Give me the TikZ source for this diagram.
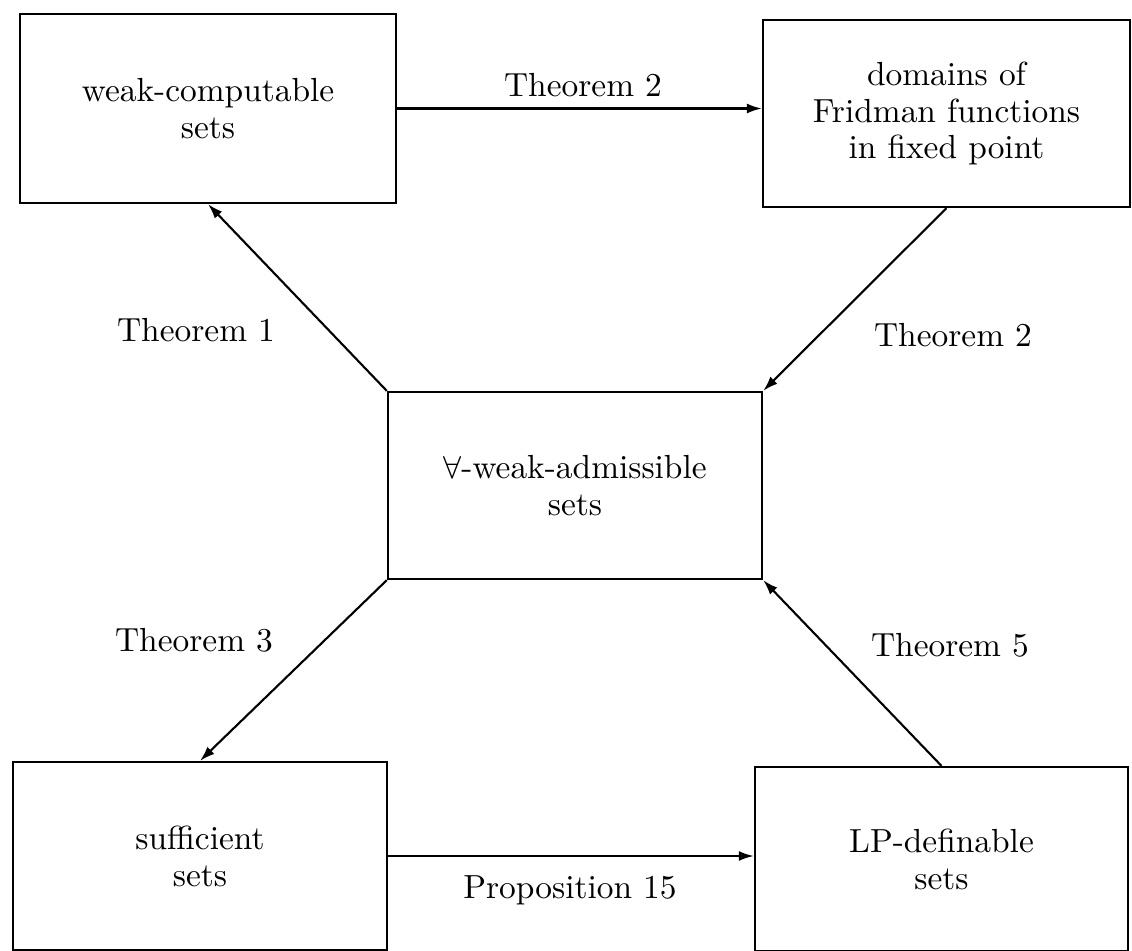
\documentclass[tikz,border=0pt]{standalone}
\usetikzlibrary{arrows.meta,positioning,calc}

\begin{document}
\begin{tikzpicture}[
  x=0.01cm,y=-0.01cm,
  every node/.style={font=\fontsize{9.5}{10.5}\selectfont},
  setbox/.style={draw,line width=0.6pt,minimum width=3.74cm,minimum height=1.87cm,
                 align=center,inner sep=2pt},
  arr/.style={-{Latex[length=1.5mm,width=1mm]},line width=0.6pt},
]
  \useasboundingbox (0,0) rectangle (1132,951);

  % Set classes
  \node[setbox,minimum width=3.76cm,minimum height=1.89cm] (weak) at (208,108.5)
    {weak-computable\\sets};
  \node[setbox,minimum width=3.67cm] (fridman) at (946.5,113.5)
    {domains of\\Fridman functions\\in fixed point};
  \node[setbox] (adm) at (575,485.5)
    {$\forall$-weak-admissible\\sets};
  \node[setbox,minimum height=1.88cm] (suff) at (200,856)
    {sufficient\\sets};
  \node[setbox,minimum width=3.73cm,minimum height=1.84cm] (lp) at (941.5,859)
    {LP-definable\\sets};

  % Arrows
  \draw[arr] (weak.east) -- (weak.east -| fridman.west);
  \draw[arr] (adm.north west) -- (weak.south);
  \draw[arr] (fridman.south) -- (adm.north east);
  \draw[arr] (adm.south west) -- (suff.north);
  \draw[arr] (lp.north) -- (adm.south east);
  \draw[arr] (suff.east) -- (suff.east -| lp.west);

  % Labels
  \node (thmtwo) at (583,85) {Theorem 2};
  \node (thmone) at (196,330) {Theorem 1};
  \node (thmtwob) at (953,335) {Theorem 2};
  \node (thmthree) at (194,640) {Theorem 3};
  \node (thmfive) at (950,645) {Theorem 5};
  \node (prop) at (570,890) {Proposition 15};
\end{tikzpicture}
\end{document}
